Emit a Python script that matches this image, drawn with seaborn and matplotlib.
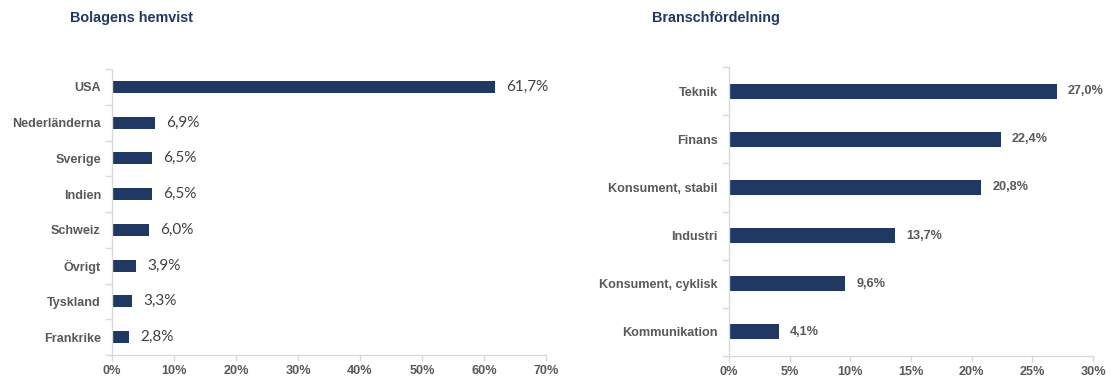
import matplotlib
matplotlib.use("Agg")
import matplotlib.pyplot as plt
import matplotlib.font_manager as fm
from matplotlib.ticker import FixedLocator, FuncFormatter
import pandas as pd
import seaborn as sns

# data
land = ["USA", "Nederländerna", "Sverige", "Indien", "Schweiz", "Övrigt", "Tyskland", "Frankrike"]
land_andel = [61.7, 6.9, 6.5, 6.5, 6.0, 3.9, 3.3, 2.8]

bransch = ["Teknik", "Finans", "Konsument, stabil", "Industri", "Konsument, cyklisk", "Kommunikation"]
bransch_andel = [27.0, 22.4, 20.8, 13.7, 9.6, 4.1]

titles = ["Bolagens hemvist", "Branschfördelning"]

navy = "#203864"
grey = "#595959"
axis_grey = "#D9D9D9"

sns.set_theme(style="white")
installed = {f.name for f in fm.fontManager.ttflist}
narrow = "Liberation Sans Narrow" if "Liberation Sans Narrow" in installed else "Liberation Sans"
tick_size = 10 if narrow == "Liberation Sans Narrow" else 9.1
plt.rcParams["font.family"] = ["Liberation Sans", "DejaVu Sans"]

fig = plt.figure(figsize=(11.11, 3.82), dpi=100)
ax1 = fig.add_axes([112 / 1111, 1 - 355 / 382, (546 - 112) / 1111, (355 - 69) / 382])
ax2 = fig.add_axes([729 / 1111, 1 - 356 / 382, (1093 - 729) / 1111, (356 - 67) / 382])


def fmt_pct(v):
    return f"{v:.1f}".replace(".", ",") + "%"


def draw(ax, cats, vals, xmax, step, width, label_font, label_size, label_weight, label_pad):
    df = pd.DataFrame({"kat": cats, "andel": vals})
    sns.barplot(data=df, y="kat", x="andel", color=navy, width=width, ax=ax,
                saturation=1, edgecolor="none")
    ax.set_xlim(0, xmax)
    ax.set_ylim(len(cats) - 0.5, -0.5)
    ax.set_xlabel("")
    ax.set_ylabel("")
    ax.set_xticks(range(0, xmax + 1, step))
    ax.xaxis.set_major_formatter(FuncFormatter(lambda v, p: f"{int(v)}%"))
    for lab in ax.get_xticklabels() + ax.get_yticklabels():
        lab.set_fontfamily(narrow)
        lab.set_fontweight("bold")
        lab.set_color(grey)
        lab.set_fontsize(tick_size)
    ax.yaxis.set_minor_locator(FixedLocator([i - 0.5 for i in range(len(cats) + 1)]))
    ax.tick_params(axis="y", which="major", length=0, pad=8)
    ax.tick_params(axis="y", which="minor", length=5, color=axis_grey, width=1, direction="out", left=True)
    ax.tick_params(axis="x", which="major", length=4, color=axis_grey, width=1, direction="out", bottom=True, pad=3)
    for s in ["top", "right"]:
        ax.spines[s].set_visible(False)
    for s in ["left", "bottom"]:
        ax.spines[s].set_visible(True)
        ax.spines[s].set_color(axis_grey)
        ax.spines[s].set_linewidth(1)
    for i, v in enumerate(vals):
        ax.text(v + label_pad, i, fmt_pct(v), va="center", ha="left",
                fontsize=label_size, fontweight=label_weight,
                color=grey if label_weight == "bold" else "#404040",
                family=label_font)


draw(ax1, land, land_andel, 70, 10, 0.33, ["Lato", "DejaVu Sans"], 11, "normal", 1.8)
draw(ax2, bransch, bransch_andel, 30, 5, 0.31, [narrow, "DejaVu Sans"], tick_size, "bold", 0.9)

fig.text(70 / 1111, 1 - 18 / 382, titles[0], fontsize=10.4, fontweight="bold", color="#1F3864",
         va="center", ha="left")
fig.text(652 / 1111, 1 - 18 / 382, titles[1], fontsize=10.4, fontweight="bold", color="#1F3864",
         va="center", ha="left")

fig.savefig("out.png", dpi=100, facecolor="white")
